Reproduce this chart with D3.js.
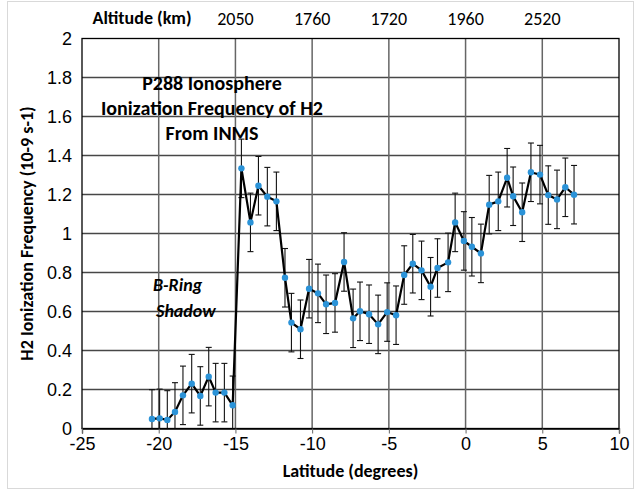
<!DOCTYPE html>
<html>
<head>
<meta charset="utf-8">
<script src="https://cdn.jsdelivr.net/npm/d3@7"></script>
<style>
  body { margin: 0; background: #fff; }
  svg { display: block; font-family: Carlito, Lato, sans-serif; }
</style>
</head>
<body>
<svg id="chart" width="634" height="490"></svg>
<script>
// latitude (deg) and H2 ionization frequency (10-9 s-1)
const latitude = [-20.44, -19.94, -19.44, -18.94, -18.42, -17.85, -17.29, -16.74, -16.29, -15.72,
  -15.18, -14.61, -14.02, -13.50, -12.92, -12.33, -11.77, -11.35, -10.76, -10.20,
  -9.62, -9.09, -8.51, -7.92, -7.33, -6.88, -6.29, -5.70, -5.11, -4.53,
  -4.00, -3.44, -2.87, -2.28, -1.83, -1.14, -0.68, -0.11, 0.41, 1.00,
  1.54, 2.13, 2.71, 3.10, 3.69, 4.26, 4.85, 5.39, 5.96, 6.50, 7.07];
const frequency = [0.049, 0.052, 0.044, 0.085, 0.17, 0.23, 0.167, 0.266, 0.184, 0.184,
  0.119, 1.334, 1.057, 1.245, 1.189, 1.165, 0.773, 0.543, 0.509, 0.717,
  0.693, 0.637, 0.644, 0.854, 0.565, 0.601, 0.586, 0.534, 0.597, 0.581,
  0.787, 0.845, 0.811, 0.727, 0.823, 0.852, 1.057, 0.962, 0.932, 0.898,
  1.148, 1.165, 1.286, 1.191, 1.109, 1.314, 1.302, 1.197, 1.175, 1.237, 1.199];
const errorBar = 0.15;

const xTicks = [-25, -20, -15, -10, -5, 0, 5, 10];
const yTicks = [0, 0.2, 0.4, 0.6, 0.8, 1, 1.2, 1.4, 1.6, 1.8, 2];
// altitude labels along the top, at these latitudes
const altitudeAt = [-15, -10, -5, 0, 5];
const altitudeLabels = ["2050", "1760", "1720", "1960", "2520"];

const titleLines = ["P288 Ionosphere", "Ionization Frequency of H2", "From INMS"];

const svg = d3.select("#chart");
const width = 634;
const height = 490;
const margin = { top: 38.5, right: 15, bottom: 61.5, left: 82 };
const innerWidth = width - margin.left - margin.right;
const innerHeight = height - margin.top - margin.bottom;

// outer chart frame
svg.append("rect")
    .attr("x", 7.5).attr("y", 1.5)
    .attr("width", width - 8).attr("height", height - 3)
    .attr("fill", "none")
    .attr("stroke", "#d9d9d9");

const xScale = d3.scaleLinear()
    .domain([-25, 10])
    .range([margin.left, margin.left + innerWidth]);

const yScale = d3.scaleLinear()
    .domain([0, 2])
    .range([margin.top + innerHeight, margin.top]);

// gridlines
svg.append("g")
    .selectAll("line")
    .data(yTicks.slice(1, -1))
    .join("line")
    .attr("x1", margin.left).attr("x2", margin.left + innerWidth)
    .attr("y1", d => yScale(d)).attr("y2", d => yScale(d))
    .attr("stroke", "#474747")
    .attr("stroke-width", 1.3);

svg.append("g")
    .selectAll("line")
    .data(xTicks.slice(1, -1))
    .join("line")
    .attr("x1", d => xScale(d)).attr("x2", d => xScale(d))
    .attr("y1", margin.top).attr("y2", margin.top + innerHeight)
    .attr("stroke", "#666")
    .attr("stroke-width", 1.5);

// plot border
svg.append("rect")
    .attr("x", margin.left).attr("y", margin.top)
    .attr("width", innerWidth).attr("height", innerHeight)
    .attr("fill", "none")
    .attr("stroke", "#000")
    .attr("stroke-width", 1.3);

// x axis (plain hyphen for negatives, like the original)
const xAxis = d3.axisBottom(xScale).tickValues(xTicks).tickSize(5).tickPadding(4)
    .tickFormat(d => String(d));
const gx = svg.append("g")
    .attr("transform", `translate(0, ${margin.top + innerHeight})`)
    .call(xAxis);
gx.select(".domain").attr("stroke", "#000").attr("stroke-width", 1.3);
gx.selectAll(".tick line").attr("stroke", "#666");
gx.selectAll("text")
    .style("fill", "#000")
    .style("font-size", "18px");

// y axis
const yAxis = d3.axisLeft(yScale).tickValues(yTicks).tickSize(0).tickPadding(10)
    .tickFormat(d => String(d));
const gy = svg.append("g")
    .attr("transform", `translate(${margin.left}, 0)`)
    .call(yAxis);
gy.select(".domain").remove();
gy.selectAll("text")
    .style("fill", "#000")
    .style("font-size", "18px");

// error bars, clipped at zero
const errG = svg.append("g").attr("stroke", "#111").attr("stroke-width", 1.1);
latitude.forEach((lat, i) => {
    const x = xScale(lat);
    const lo = Math.max(0, frequency[i] - errorBar);
    const hi = frequency[i] + errorBar;
    errG.append("line")
        .attr("x1", x).attr("x2", x)
        .attr("y1", yScale(lo)).attr("y2", yScale(hi));
    errG.append("line")
        .attr("x1", x - 3).attr("x2", x + 3)
        .attr("y1", yScale(hi)).attr("y2", yScale(hi));
    if (lo > 0) {
        errG.append("line")
            .attr("x1", x - 3).attr("x2", x + 3)
            .attr("y1", yScale(lo)).attr("y2", yScale(lo));
    }
});

// series line
const line = d3.line()
    .x((d, i) => xScale(latitude[i]))
    .y(d => yScale(d));

svg.append("path")
    .datum(frequency)
    .attr("d", line)
    .attr("fill", "none")
    .attr("stroke", "#000")
    .attr("stroke-width", 2.2);

svg.append("g")
    .selectAll("circle")
    .data(frequency)
    .join("circle")
    .attr("cx", (d, i) => xScale(latitude[i]))
    .attr("cy", d => yScale(d))
    .attr("r", 3.2)
    .attr("fill", "#2b93d8");

// top altitude labels
svg.append("text")
    .attr("x", 142).attr("y", 24)
    .attr("text-anchor", "middle")
    .style("font-size", "18px").style("font-weight", "bold")
    .text("Altitude (km)");

svg.append("g")
    .selectAll("text")
    .data(altitudeLabels)
    .join("text")
    .attr("x", (d, i) => xScale(altitudeAt[i]))
    .attr("y", 25)
    .attr("text-anchor", "middle")
    .style("font-size", "18px")
    .text(d => d);

// chart title inside the plot
svg.append("g")
    .selectAll("text")
    .data(titleLines)
    .join("text")
    .attr("x", 212)
    .attr("y", (d, i) => 90 + i * 25)
    .attr("text-anchor", "middle")
    .style("font-size", "20px").style("font-weight", "bold")
    .text(d => d);

// B-Ring shadow annotation
svg.append("text")
    .attr("x", 153).attr("y", 291)
    .style("font-size", "18px").style("font-weight", "bold").style("font-style", "italic")
    .text("B-Ring");
svg.append("text")
    .attr("x", 156).attr("y", 317)
    .style("font-size", "18px").style("font-weight", "bold").style("font-style", "italic")
    .text("Shadow");

// axis titles
svg.append("text")
    .attr("x", margin.left + innerWidth / 2)
    .attr("y", 477)
    .attr("text-anchor", "middle")
    .style("font-size", "18px").style("font-weight", "bold")
    .text("Latitude (degrees)");

svg.append("text")
    .attr("transform", `translate(33, ${margin.top + innerHeight / 2}) rotate(-90)`)
    .attr("text-anchor", "middle")
    .style("font-size", "18px").style("font-weight", "bold")
    .text("H2 Ionization Frequency (10-9 s-1)");
</script>
</body>
</html>
